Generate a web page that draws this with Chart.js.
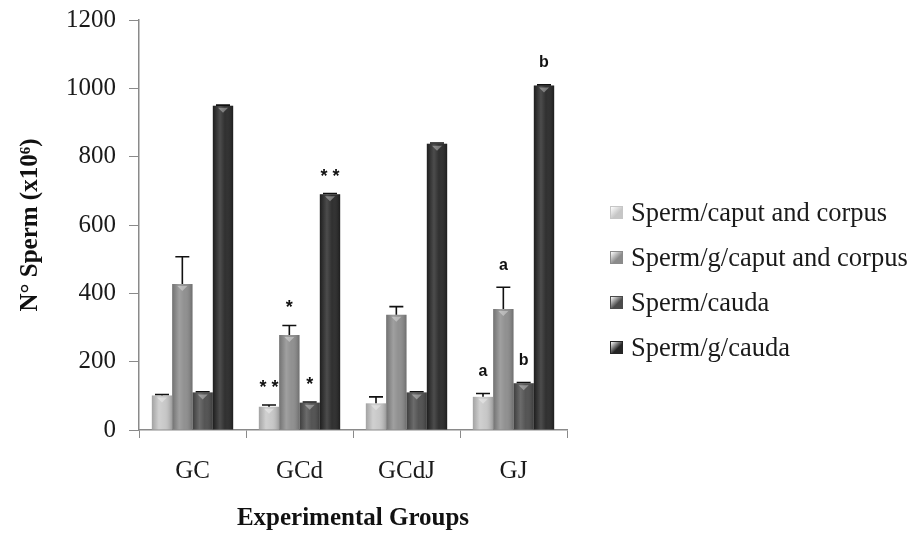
<!DOCTYPE html>
<html lang="en">
<head>
    <meta charset="UTF-8">
    <title>Sperm count</title>
    <script src="https://cdn.jsdelivr.net/npm/chart.js"></script>
    <style>
        html, body {
            margin: 0;
            padding: 0;
            background: #fff;
        }
        #wrap {
            position: relative;
            width: 916px;
            height: 537px;
        }
        #legend {
            position: absolute;
            left: 610px;
            top: 190px;
            font-family: "Liberation Serif", serif;
            font-size: 26.5px;
            color: #1a1a1a;
        }
        .item {
            height: 45px;
            line-height: 45px;
            white-space: nowrap;
        }
        .box {
            display: inline-block;
            width: 11px;
            height: 11px;
            margin-right: 8px;
            vertical-align: 2px;
        }
    </style>
</head>
<body>
<div id="wrap">
    <canvas id="chart" width="916" height="537"></canvas>
    <div id="legend"></div>
</div>
<script>
    // data
    const groups = ['GC', 'GCd', 'GCdJ', 'GJ'];
    const seriesNames = ['Sperm/caput and corpus', 'Sperm/g/caput and corpus', 'Sperm/cauda', 'Sperm/g/cauda'];
    const caputCorpus = [101, 68, 78, 97];
    const caputCorpusPerG = [427, 278, 337, 354];
    const cauda = [110, 80, 110, 137];
    const caudaPerG = [949, 690, 838, 1008];
    // upper error (SD) for each series
    const caputCorpusErr = [3, 5, 19, 10];
    const caputCorpusPerGErr = [80, 28, 24, 64];
    const caudaErr = [2, 2, 2, 2];
    const caudaPerGErr = [2, 2, 2, 2];
    // significance marks above bars
    const caputCorpusMarks = ['', '**', '', 'a'];
    const caputCorpusPerGMarks = ['', '*', '', 'a'];
    const caudaMarks = ['', '*', '', 'b'];
    const caudaPerGMarks = ['', '**', '', 'b'];
    const yTicks = [0, 200, 400, 600, 800, 1000, 1200];

    const colors = ['#c6c6c6', '#8b8b8b', '#4b4b4b', '#252525'];
    const values = [caputCorpus, caputCorpusPerG, cauda, caudaPerG];
    const errors = [caputCorpusErr, caputCorpusPerGErr, caudaErr, caudaPerGErr];
    const marks = [caputCorpusMarks, caputCorpusPerGMarks, caudaMarks, caudaPerGMarks];

    const serif = '"Liberation Serif", "Times New Roman", serif';

    // shading, error bars and marks drawn after the bars
    const extras = {
        id: 'extras',
        afterDatasetsDraw(chart) {
            const ctx = chart.ctx;
            const y = chart.scales.y;
            chart.data.datasets.forEach((ds, d) => {
                const meta = chart.getDatasetMeta(d);
                meta.data.forEach((bar, i) => {
                    const left = bar.x - bar.width / 2;
                    const w = bar.width;
                    // cylinder-like shading
                    const g = ctx.createLinearGradient(left, 0, left + w, 0);
                    g.addColorStop(0, 'rgba(0,0,0,0.18)');
                    g.addColorStop(0.35, 'rgba(255,255,255,0.18)');
                    g.addColorStop(0.6, 'rgba(255,255,255,0.05)');
                    g.addColorStop(1, 'rgba(0,0,0,0.22)');
                    ctx.save();
                    ctx.fillStyle = g;
                    ctx.fillRect(left, bar.y, w, bar.base - bar.y);
                    // small bevel at top
                    ctx.fillStyle = 'rgba(255,255,255,0.35)';
                    ctx.beginPath();
                    ctx.moveTo(bar.x - 5, bar.y + 2);
                    ctx.lineTo(bar.x + 5, bar.y + 2);
                    ctx.lineTo(bar.x, bar.y + 7);
                    ctx.closePath();
                    ctx.fill();
                    ctx.restore();

                    const top = y.getPixelForValue(values[d][i] + errors[d][i]);
                    ctx.save();
                    ctx.strokeStyle = '#111';
                    ctx.lineWidth = 1.6;
                    ctx.beginPath();
                    ctx.moveTo(bar.x, bar.y);
                    ctx.lineTo(bar.x, top);
                    ctx.moveTo(bar.x - 7, top);
                    ctx.lineTo(bar.x + 7, top);
                    ctx.stroke();

                    const m = marks[d][i];
                    if (m) {
                        ctx.fillStyle = '#111';
                        ctx.textAlign = 'center';
                        ctx.textBaseline = 'middle';
                        if (m.includes('*')) {
                            ctx.font = 'bold 18px "Liberation Sans", sans-serif';
                            ctx.fillText(m.split('').join(' '), bar.x, top - 17);
                        } else {
                            ctx.font = 'bold 16px "Liberation Sans", sans-serif';
                            ctx.fillText(m, bar.x, top - 22);
                        }
                    }
                    ctx.restore();
                });
            });
        }
    };

    new Chart(document.getElementById('chart'), {
        type: 'bar',
        data: {
            labels: groups,
            datasets: values.map((v, k) => ({
                label: seriesNames[k],
                data: v,
                backgroundColor: colors[k],
                borderWidth: 0
            }))
        },
        options: {
            responsive: false,
            animation: false,
            layout: {
                padding: { top: 20, right: 349, left: 0, bottom: 0 }
            },
            categoryPercentage: 0.76,
            barPercentage: 1,
            plugins: {
                legend: { display: false },
                tooltip: { enabled: false }
            },
            scales: {
                x: {
                    afterFit(scale) { scale.height = 107; },
                    grid: {
                        offset: true,
                        drawOnChartArea: false,
                        color: '#8a8a8a',
                        tickLength: 8
                    },
                    border: { color: '#8a8a8a', width: 1.5 },
                    ticks: {
                        color: '#1a1a1a',
                        padding: 18,
                        font: { family: serif, size: 25 }
                    },
                    title: {
                        display: true,
                        text: 'Experimental Groups',
                        color: '#111',
                        padding: { top: 0, bottom: 3 },
                        font: { family: serif, size: 25, weight: 'bold' }
                    }
                },
                y: {
                    min: 0,
                    max: 1200,
                    afterFit(scale) {
                        scale.width = 139;
                        scale.paddingTop = 0;
                        scale.paddingBottom = 0;
                    },
                    afterBuildTicks(scale) {
                        scale.ticks = yTicks.map(v => ({ value: v }));
                    },
                    grid: {
                        drawOnChartArea: false,
                        color: '#8a8a8a',
                        tickLength: 10
                    },
                    border: { color: '#8a8a8a', width: 1.5 },
                    ticks: {
                        color: '#1a1a1a',
                        padding: 13,
                        font: { family: serif, size: 25 },
                        callback: v => String(v)
                    },
                    title: {
                        display: true,
                        text: 'N° Sperm (x10⁶)',
                        color: '#111',
                        padding: { top: 16, bottom: 0 },
                        font: { family: serif, size: 25, weight: 'bold' }
                    }
                }
            }
        },
        plugins: [extras]
    });

    // legend as html, built from the series names and colours
    const legend = document.getElementById('legend');
    seriesNames.forEach((name, k) => {
        const row = document.createElement('div');
        row.className = 'item';
        const box = document.createElement('span');
        box.className = 'box';
        box.style.background = 'linear-gradient(135deg, rgba(255,255,255,0.5), ' + colors[k] + ' 60%)';
        box.style.border = '1px solid ' + colors[k];
        row.appendChild(box);
        row.appendChild(document.createTextNode(name));
        legend.appendChild(row);
    });
</script>
</body>
</html>
